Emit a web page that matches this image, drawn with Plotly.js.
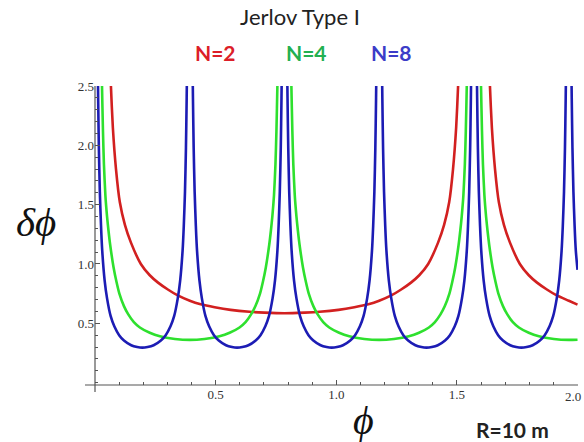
<!DOCTYPE html>
<html>
<head>
<meta charset="utf-8">
<script src="https://cdn.plot.ly/plotly-3.0.1.min.js"></script>
<style>html,body{margin:0;padding:0;background:#fff;}#chart{width:584px;height:442px;}</style>
</head>
<body>
<div id="chart"></div>
<script>
// Tick labels (the last x label is placed as an annotation so it stays inside the picture)
var xTickVals = [0.5, 1.0, 1.5, 2.0];
var xTickText = ['0.5', '1.0', '1.5', ''];
var xLastTickText = '2.0';
var yTickVals = [0.5, 1.0, 1.5, 2.0, 2.5];
var yTickText = ['0.5', '1.0', '1.5', '2.0', '2.5'];

// N=2 (red)
var n2Phi = [0.058,0.066,0.074,0.087,0.103,0.124,0.149,0.190,0.227,0.260,0.302,0.343,0.393,0.438,0.496,0.562,0.640,0.702,0.785,
  0.869,0.931,1.009,1.075,1.133,1.178,1.228,1.269,1.311,1.344,1.381,1.422,1.447,1.468,1.484,1.497,1.505,1.513,null,
  1.629,1.637,1.645,1.658,1.674,1.695,1.720,1.761,1.798,1.831,1.873,1.914,1.964,2.0];
var n2Val = [3.0,2.5,2.15,1.80,1.52,1.33,1.18,1.00,0.905,0.845,0.785,0.735,0.69,0.66,0.635,0.613,0.597,0.59,0.585,
  0.59,0.597,0.613,0.635,0.66,0.69,0.735,0.785,0.845,0.905,1.00,1.18,1.33,1.52,1.80,2.15,2.5,3.0,null,
  3.0,2.5,2.15,1.80,1.52,1.33,1.18,1.00,0.905,0.845,0.785,0.735,0.69,0.657];

// N=4 (green)
var n4Phi = [0.025,0.029,0.033,0.037,0.043,0.050,0.056,0.063,0.077,0.089,0.101,0.120,0.138,0.161,0.186,0.227,0.269,0.331,0.393,
  0.454,0.516,0.558,0.599,0.624,0.647,0.665,0.684,0.696,0.708,0.722,0.729,0.735,0.742,0.748,0.752,0.756,0.760,null,
  0.810,0.814,0.818,0.822,0.828,0.835,0.841,0.848,0.862,0.874,0.886,0.905,0.923,0.946,0.971,1.012,1.054,1.116,1.178,
  1.239,1.301,1.343,1.384,1.409,1.432,1.450,1.469,1.481,1.493,1.507,1.514,1.520,1.527,1.533,1.537,1.541,1.545,null,
  1.596,1.600,1.604,1.608,1.614,1.621,1.627,1.634,1.648,1.660,1.672,1.691,1.709,1.732,1.757,1.798,1.840,1.902,1.964,2.0];
var n4Val = [2.9,2.5,2.12,1.84,1.58,1.40,1.28,1.16,0.97,0.85,0.75,0.645,0.575,0.51,0.465,0.42,0.39,0.368,0.36,
  0.368,0.39,0.42,0.465,0.51,0.575,0.645,0.75,0.85,0.97,1.16,1.28,1.40,1.58,1.84,2.12,2.5,2.9,null,
  2.9,2.5,2.12,1.84,1.58,1.40,1.28,1.16,0.97,0.85,0.75,0.645,0.575,0.51,0.465,0.42,0.39,0.368,0.36,
  0.368,0.39,0.42,0.465,0.51,0.575,0.645,0.75,0.85,0.97,1.16,1.28,1.40,1.58,1.84,2.12,2.5,2.9,null,
  2.9,2.5,2.12,1.84,1.58,1.40,1.28,1.16,0.97,0.85,0.75,0.645,0.575,0.51,0.465,0.42,0.39,0.368,0.36,0.362];

// N=8 (blue): one well's values, and the positions of each well
var n8WellVal = [3.06,2.58,2.40,1.98,1.61,1.32,1.11,0.86,0.71,0.56,0.475,0.40,0.355,0.315,0.30,0.295,
  0.30,0.315,0.355,0.40,0.475,0.56,0.71,0.86,1.11,1.32,1.61,1.98,2.40,2.58,3.06];
var n8Well1Phi = [0.010,0.012,0.013,0.016,0.020,0.025,0.030,0.040,0.050,0.065,0.080,0.100,0.120,0.150,0.175,0.196,
  0.218,0.243,0.273,0.293,0.313,0.328,0.343,0.353,0.363,0.368,0.373,0.377,0.380,0.381,0.383];
var n8Well2Phi = [0.403,0.405,0.406,0.409,0.413,0.418,0.423,0.433,0.443,0.458,0.473,0.493,0.513,0.543,0.568,0.589,
  0.611,0.636,0.666,0.686,0.706,0.721,0.736,0.746,0.756,0.761,0.766,0.770,0.773,0.774,0.776];
var n8Well3Phi = [0.795,0.797,0.798,0.801,0.805,0.810,0.815,0.825,0.835,0.850,0.865,0.885,0.905,0.935,0.960,0.981,
  1.003,1.028,1.058,1.078,1.098,1.113,1.128,1.138,1.148,1.153,1.158,1.162,1.165,1.166,1.168];
var n8Well4Phi = [1.188,1.190,1.191,1.194,1.198,1.203,1.208,1.218,1.228,1.243,1.258,1.278,1.298,1.328,1.353,1.374,
  1.396,1.421,1.451,1.471,1.491,1.506,1.521,1.531,1.541,1.546,1.551,1.555,1.558,1.559,1.561];
var n8Well5Phi = [1.581,1.583,1.584,1.587,1.591,1.596,1.601,1.611,1.621,1.636,1.651,1.671,1.691,1.721,1.746,1.767,
  1.789,1.814,1.844,1.864,1.884,1.899,1.914,1.924,1.934,1.939,1.944,1.948,1.951,1.952,1.954];
var n8TailPhi = [1.973,1.975,1.976,1.979,1.983,1.988,1.993,2.0];
var n8TailVal = [3.06,2.58,2.40,1.98,1.61,1.32,1.11,0.95];

var n8Phi = [].concat(n8Well1Phi,[null],n8Well2Phi,[null],n8Well3Phi,[null],n8Well4Phi,[null],n8Well5Phi,[null],n8TailPhi);
var n8Val = [].concat(n8WellVal,[null],n8WellVal,[null],n8WellVal,[null],n8WellVal,[null],n8WellVal,[null],n8TailVal);

var lw = 2.6;
var traces = [
  {x: n2Phi, y: n2Val, mode: 'lines', line: {color: '#d22020', width: lw, shape: 'spline', smoothing: 0.6}, connectgaps: false, hoverinfo: 'skip'},
  {x: n4Phi, y: n4Val, mode: 'lines', line: {color: '#2ee02e', width: lw, shape: 'spline', smoothing: 0.6}, connectgaps: false, hoverinfo: 'skip'},
  {x: n8Phi, y: n8Val, mode: 'lines', line: {color: '#1c1cb4', width: lw, shape: 'spline', smoothing: 0.6}, connectgaps: false, hoverinfo: 'skip'}
];

var axCol = '#555';
var tickFont = {family: 'Liberation Serif, DejaVu Serif, serif', size: 13, color: '#333'};
var layout = {
  width: 584, height: 442,
  margin: {l: 95, r: 6, t: 86, b: 57, pad: 0},
  paper_bgcolor: '#fff', plot_bgcolor: '#fff',
  showlegend: false,
  xaxis: {
    range: [0, 2.002], showgrid: false, zeroline: false, showline: false,
    tickmode: 'array', tickvals: xTickVals, ticktext: xTickText,
    ticks: 'inside', ticklen: 5, tickwidth: 1, tickcolor: axCol,
    tickfont: tickFont,
    minor: {tickmode: 'linear', tick0: 0, dtick: 0.1, ticks: 'inside', ticklen: 3, tickwidth: 1, tickcolor: axCol, showgrid: false}
  },
  yaxis: {
    range: [-0.02, 2.5], showgrid: false, zeroline: false, showline: false,
    tickmode: 'array', tickvals: yTickVals, ticktext: yTickText,
    ticks: 'inside', ticklen: 5, tickwidth: 1, tickcolor: axCol,
    tickfont: tickFont, ticklabeloverflow: 'allow',
    minor: {tickmode: 'linear', tick0: 0, dtick: 0.1, ticks: 'inside', ticklen: 3, tickwidth: 1, tickcolor: axCol, showgrid: false}
  },
  shapes: [
    {type: 'line', xref: 'paper', yref: 'paper', x0: -0.0207, x1: 1.0, y0: 0, y1: 0, line: {color: axCol, width: 1.2}},
    {type: 'line', xref: 'paper', yref: 'paper', x0: 0, x1: 0, y0: -0.0234, y1: 1.0, line: {color: axCol, width: 1.2}}
  ],
  annotations: [
    {text: xLastTickText, xref: 'paper', yref: 'paper', x: 1.0, y: -0.04, xanchor: 'right', yanchor: 'middle', xshift: 5, showarrow: false,
     font: tickFont},
    {text: 'Jerlov Type I', xref: 'paper', yref: 'paper', x: 0.4244, y: 1.2308, xanchor: 'center', yanchor: 'middle', showarrow: false,
     font: {family: 'Lato, Open Sans, sans-serif', size: 22, color: '#222'}},
    {text: '<b>N=2</b>', xref: 'paper', yref: 'paper', x: 0.2505, y: 1.1137, xanchor: 'center', yanchor: 'middle', showarrow: false,
     font: {family: 'Lato, Open Sans, sans-serif', size: 21, color: '#dc1e28'}},
    {text: '<b>N=4</b>', xref: 'paper', yref: 'paper', x: 0.4389, y: 1.1137, xanchor: 'center', yanchor: 'middle', showarrow: false,
     font: {family: 'Lato, Open Sans, sans-serif', size: 21, color: '#22b050'}},
    {text: '<b>N=8</b>', xref: 'paper', yref: 'paper', x: 0.6149, y: 1.1137, xanchor: 'center', yanchor: 'middle', showarrow: false,
     font: {family: 'Lato, Open Sans, sans-serif', size: 21, color: '#3c3cc8'}},
    {text: '<i>δϕ</i>', xref: 'paper', yref: 'paper', x: -0.1222, y: 0.5452, xanchor: 'center', yanchor: 'middle', showarrow: false,
     font: {family: 'Liberation Serif, DejaVu Serif, serif', size: 41, color: '#111'}},
    {text: '<i>ϕ</i>', xref: 'paper', yref: 'paper', x: 0.5569, y: -0.1204, xanchor: 'center', yanchor: 'middle', showarrow: false,
     font: {family: 'Liberation Serif, DejaVu Serif, serif', size: 40, color: '#111'}},
    {text: '<b>R=10 m</b>', xref: 'paper', yref: 'paper', x: 0.8634, y: -0.1472, xanchor: 'center', yanchor: 'middle', showarrow: false,
     font: {family: 'Lato, Open Sans, sans-serif', size: 21, color: '#222'}}
  ]
};

Plotly.newPlot('chart', traces, layout, {displayModeBar: false, staticPlot: true});
</script>
</body>
</html>
